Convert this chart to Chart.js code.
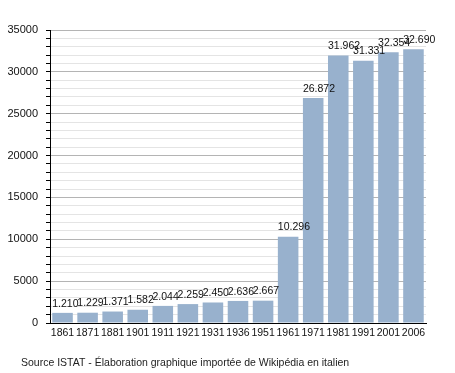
<!DOCTYPE html>
<html>
<head>
<meta charset="utf-8">
<script src="https://cdn.jsdelivr.net/npm/chart.js@4/dist/chart.umd.min.js"></script>
<style>
  html, body { margin: 0; padding: 0; background: #fff; }
  #wrap { width: 455px; height: 373px; }
</style>
</head>
<body>
<div id="wrap"><canvas id="pop"></canvas></div>
<script>
// population by census year
const years = ['1861', '1871', '1881', '1901', '1911', '1921', '1931', '1936', '1951', '1961', '1971', '1981', '1991', '2001', '2006'];
const population = [1210, 1229, 1371, 1582, 2044, 2259, 2450, 2636, 2667, 10296, 26872, 31962, 31331, 32354, 32690];
const yTickLabels = [0, 5000, 10000, 15000, 20000, 25000, 30000, 35000];
const caption = 'Source ISTAT - Élaboration graphique importée de Wikipédia en italien';

const FONT = "'Liberation Sans', Arial, sans-serif";

// 1234 -> "1.234"
function itNum(v) {
  return String(v).replace(/\B(?=(\d{3})+(?!\d))/g, '.');
}

const valueLabels = {
  id: 'valueLabels',
  afterDatasetsDraw(chart) {
    const ctx = chart.ctx;
    const meta = chart.getDatasetMeta(0);
    ctx.save();
    ctx.font = '10.5px ' + FONT;
    ctx.fillStyle = '#111';
    ctx.textAlign = 'left';
    ctx.textBaseline = 'bottom';
    meta.data.forEach((bar, i) => {
      ctx.fillText(itNum(population[i]), bar.x - bar.width / 2, bar.y - 4);
    });
    ctx.restore();
  }
};

const captionPlugin = {
  id: 'captionPlugin',
  afterDraw(chart) {
    const ctx = chart.ctx;
    ctx.save();
    ctx.font = '10.5px ' + FONT;
    ctx.fillStyle = '#222';
    ctx.textAlign = 'left';
    ctx.textBaseline = 'middle';
    ctx.fillText(caption, 21, 363);
    ctx.restore();
  }
};

new Chart(document.getElementById('pop'), {
  type: 'bar',
  data: {
    labels: years,
    datasets: [{
      data: population,
      backgroundColor: 'rgb(152, 177, 205)',
      borderWidth: 0,
      barPercentage: 0.82,
      categoryPercentage: 1.0,
    }]
  },
  options: {
    responsive: true,
    maintainAspectRatio: false,
    animation: false,
    layout: { padding: { left: 0, right: 29, top: 30, bottom: 30 } },
    scales: {
      x: {
        grid: { display: false, drawTicks: false },
        border: { color: '#000', width: 1 },
        ticks: { color: '#111', font: { family: FONT, size: 10.5 }, padding: 4, maxRotation: 0, autoSkip: false },
        afterFit: (s) => { s.height = 20; }
      },
      y: {
        min: 0,
        max: 35000,
        grid: {
          color: (c) => c.tick && c.tick.value % 5000 === 0 ? '#b4b4b4' : '#e4e4e4',
          tickColor: '#000',
          tickLength: 4,
        },
        border: { color: '#000', width: 1 },
        ticks: {
          stepSize: 1000,
          autoSkip: false,
          color: '#111',
          padding: 8,
          font: { family: FONT, size: 11 },
          callback: (v) => yTickLabels.includes(v) ? String(v) : '',
        },
        afterFit: (s) => { s.width = 50; }
      }
    },
    plugins: {
      legend: { display: false },
      tooltip: { enabled: false }
    }
  },
  plugins: [valueLabels, captionPlugin]
});
</script>
</body>
</html>
